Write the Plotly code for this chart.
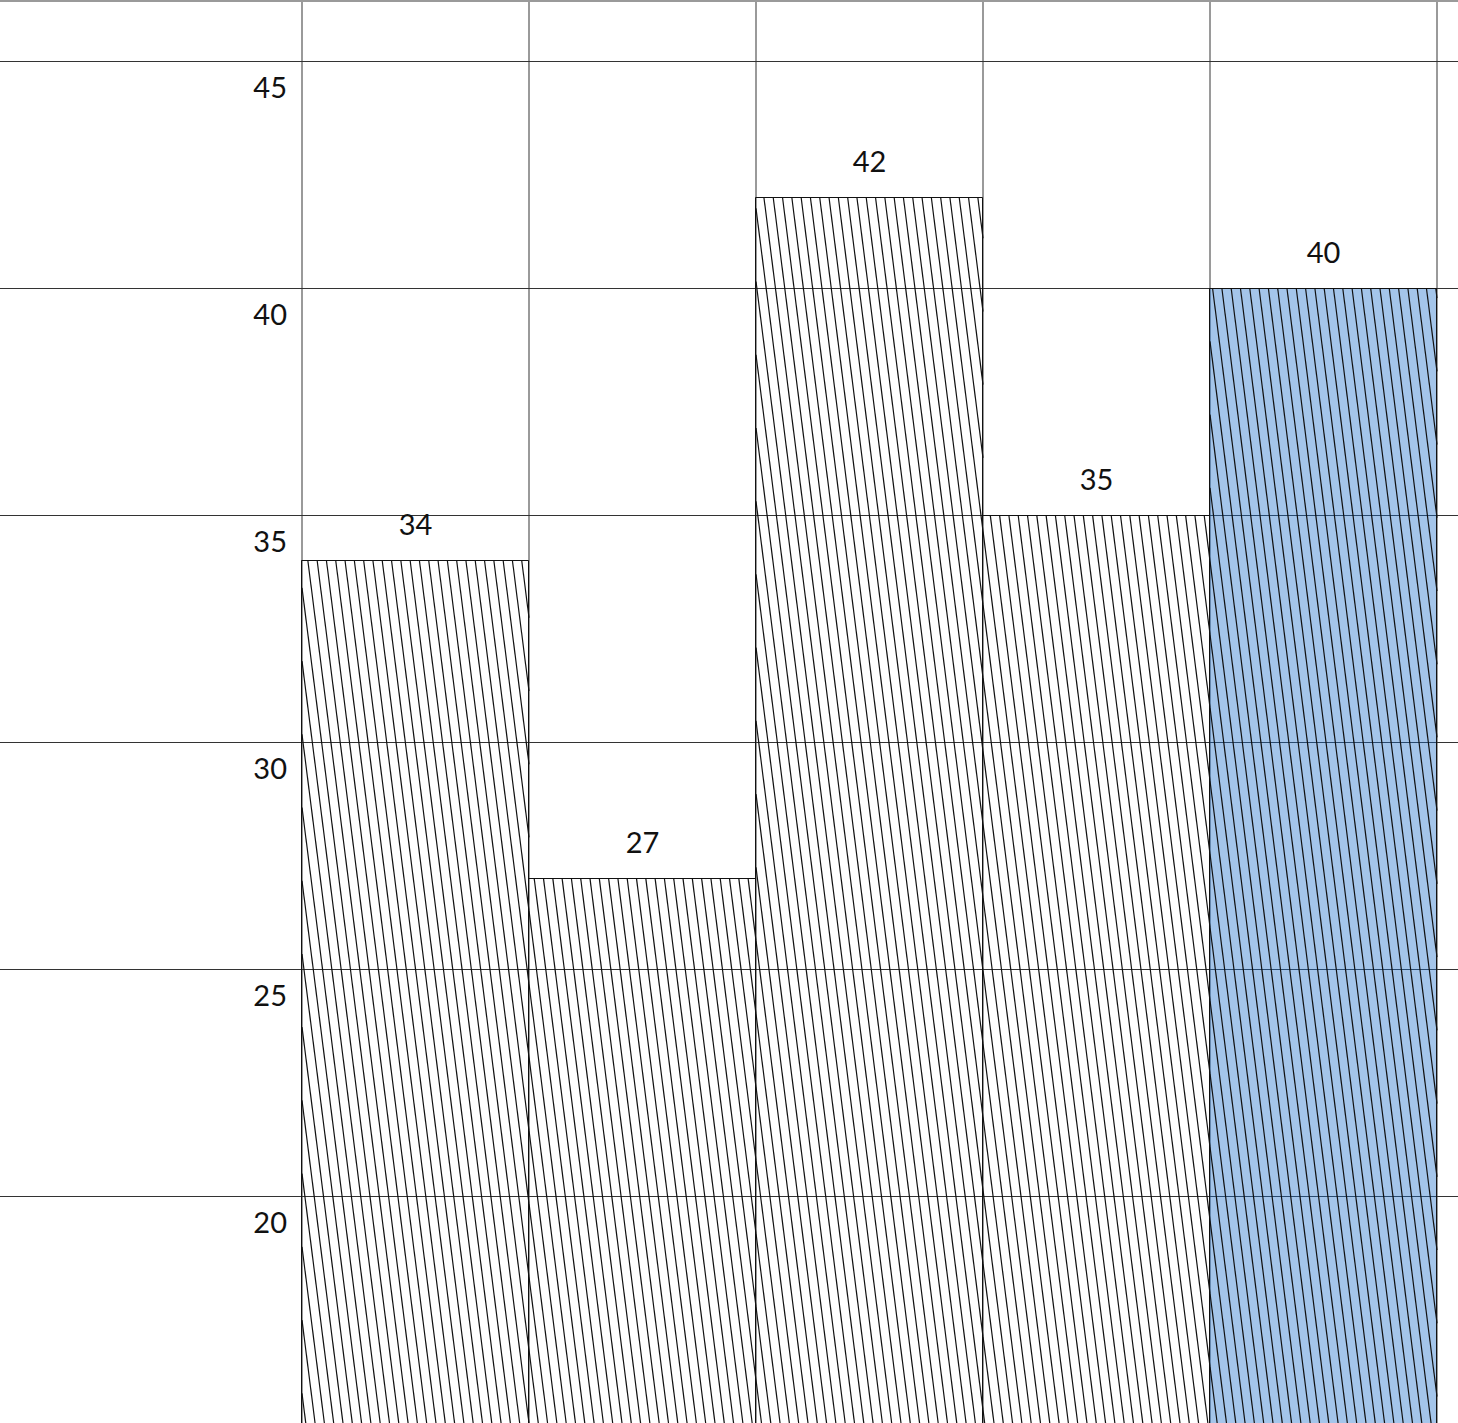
import math
import plotly.graph_objects as go

# Bar values (value labels match bar heights)
values = [34, 27, 42, 35, 40]
# Which bars get the blue highlight fill
highlighted = [False, False, False, False, True]
# Y-axis tick values
y_ticks = [20, 25, 30, 35, 40, 45]

W, H = 1458, 1423
Y_MIN, Y_MAX = 15.0, 46.32
X_MIN, X_MAX = -1.8304, 4.5925

n = len(values)
positions = list(range(n))
boundaries = [i - 0.5 for i in range(n + 1)]

# Steep diagonal hatching, expressed in data units
px_per_x = W / (X_MAX - X_MIN)
px_per_y = (H - 2) / (Y_MAX - Y_MIN)
slope_px = 0.127          # horizontal drift per pixel downward
spacing_px = 9.3          # horizontal distance between hatch lines
c = slope_px * px_per_y / px_per_x
d = spacing_px / px_per_x
k0 = -0.5 + c * Y_MAX


def hatch(x_left, x_right, y_bottom, y_top):
    xs, ys = [], []
    k_lo = x_left + c * y_bottom
    k_hi = x_right + c * y_top
    for m in range(math.ceil((k_lo - k0) / d), math.floor((k_hi - k0) / d) + 1):
        k = k0 + m * d
        ya = max(y_bottom, (k - x_right) / c)
        yb = min(y_top, (k - x_left) / c)
        if yb > ya:
            xs += [k - c * ya, k - c * yb, None]
            ys += [ya, yb, None]
    return xs, ys


fill_colors = ["rgba(28,110,202,0.4)" if h else "rgba(255,255,255,0)" for h in highlighted]

fig = go.Figure()
fig.add_trace(go.Bar(
    x=positions, y=values, width=1.0,
    marker=dict(color=fill_colors, line=dict(color="#111111", width=1)),
    showlegend=False, hoverinfo="skip",
))

hx, hy = [], []
for p, v in zip(positions, values):
    xs, ys = hatch(p - 0.5, p + 0.5, Y_MIN, v)
    hx += xs
    hy += ys
fig.add_trace(go.Scatter(
    x=hx, y=hy, mode="lines",
    line=dict(color="#111111", width=1.2),
    showlegend=False, hoverinfo="skip",
))

label_offset = 0.73
fig.add_trace(go.Scatter(
    x=positions, y=[v + label_offset for v in values],
    mode="text", text=[str(v) for v in values],
    textposition="middle center",
    textfont=dict(family="Lato", size=29, color="#111111"),
    showlegend=False, hoverinfo="skip",
))

fig.update_layout(
    width=W, height=H,
    margin=dict(l=0, r=0, t=2, b=0),
    paper_bgcolor="white", plot_bgcolor="white",
    bargap=0,
    xaxis=dict(
        range=[X_MIN, X_MAX], tickvals=boundaries, showticklabels=False,
        ticks="", showgrid=True, gridcolor="#9a9a9a", gridwidth=2,
        zeroline=False, showline=True, mirror=True,
        linecolor="#9a9a9a", linewidth=2,
    ),
    yaxis=dict(
        range=[Y_MIN, Y_MAX], tickvals=y_ticks,
        ticktext=[str(t) for t in y_ticks],
        anchor="free", position=(boundaries[0] - X_MIN) / (X_MAX - X_MIN),
        ticklabelposition="outside bottom", ticks="",
        ticklabelstandoff=15, ticklabelshift=6,
        tickfont=dict(family="Lato", size=29, color="#111111"),
        showgrid=True, gridcolor="#333333", gridwidth=1,
        zeroline=False, showline=False,
    ),
)

fig.write_html("out.html")
